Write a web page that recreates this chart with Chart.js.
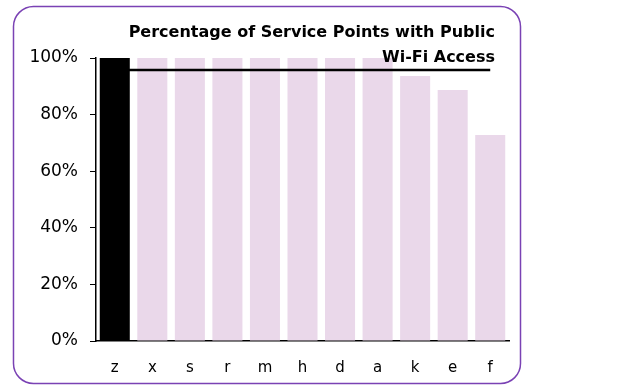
<!DOCTYPE html>
<html>
<head>
<meta charset="utf-8">
<script src="https://cdn.jsdelivr.net/npm/chart.js@4/dist/chart.umd.min.js"></script>
<style>
  html, body { margin: 0; padding: 0; background: #ffffff; }
  #myCanvas { display: block; }
</style>
</head>
<body>
<canvas id="myCanvas" width="644" height="390"></canvas>
<script>
'use strict'

var categories = ["z", "x", "s", "r", "m", "h", "d", "a", "k", "e", "f"]
var wifiPercent = [100, 100, 100, 100, 100, 100, 100, 100, 93.6, 88.7, 72.8]
var averageValue = 95.8
var yTicks = [0, 20, 40, 60, 80, 100]
var titleLines = ["Percentage of Service Points with Public", "Wi-Fi Access"]

var canvas = document.getElementById("myCanvas")
var ctx = canvas.getContext("2d")

// first bar is highlighted, the rest are pale
function barColours(){
    var colours = []
    for(let i = 0; i<categories.length; i++){
        colours.push(i === 0 ? "#000000" : "#ead8ea")
    }
    return colours
}

function averageLine(){
    var values = []
    for(let i = 0; i<categories.length; i++){
        values.push(averageValue)
    }
    return values
}

// rounded purple frame around the whole chart
var framePlugin = {
    id: "frame",
    beforeDraw: function(chart){
        var c = chart.ctx
        c.save()
        c.strokeStyle = "#7a42b4"
        c.lineWidth = 1.5
        c.beginPath()
        c.roundRect(13.5, 6.5, 507, 377, 20)
        c.stroke()
        c.restore()
    }
}

// title sits over the top right corner of the plot
var titlePlugin = {
    id: "cornerTitle",
    afterDatasetsDraw: function(chart){
        var c = chart.ctx
        c.save()
        c.font = "bold 16px 'DejaVu Sans'"
        c.fillStyle = "#000000"
        c.textAlign = "right"
        c.textBaseline = "middle"
        c.fillText(titleLines[0], 495, 33)
        c.fillText(titleLines[1], 495, 58)
        c.restore()
    }
}

new Chart(ctx, {
    data: {
        labels: categories,
        datasets: [{
            type: "line",
            label: "Average",
            data: averageLine(),
            borderColor: "#000000",
            borderWidth: 2.5,
            pointRadius: 0,
            order: 0
        },
        {
            type: "bar",
            label: "Public Wi-Fi",
            data: wifiPercent,
            backgroundColor: barColours(),
            barPercentage: 0.8,
            categoryPercentage: 1,
            order: 1
        }]
    },
    options: {
        responsive: false,
        animation: false,
        layout: {
            padding: { top: 58, right: 135, bottom: 0, left: 0 }
        },
        plugins: {
            legend: { display: false },
            tooltip: { enabled: false }
        },
        scales: {
            x: {
                grid: { display: false },
                border: { color: "#000000", width: 1.5 },
                ticks: {
                    color: "#000000",
                    padding: 10,
                    font: { family: "'DejaVu Sans'", size: 15 }
                },
                afterFit: function(scale){ scale.height = 49 }
            },
            y: {
                min: 0,
                max: 100,
                afterBuildTicks: function(scale){
                    scale.ticks = yTicks.map(function(v){ return { value: v } })
                },
                grid: {
                    drawOnChartArea: false,
                    tickLength: 6,
                    color: "#000000"
                },
                border: { color: "#000000", width: 1.5 },
                ticks: {
                    color: "#000000",
                    padding: 12,
                    font: { family: "'DejaVu Sans'", size: 17 },
                    callback: function(v){ return v + "%" }
                },
                afterFit: function(scale){ scale.width = 96 }
            }
        }
    },
    plugins: [framePlugin, titlePlugin]
});
</script>
</body>
</html>
